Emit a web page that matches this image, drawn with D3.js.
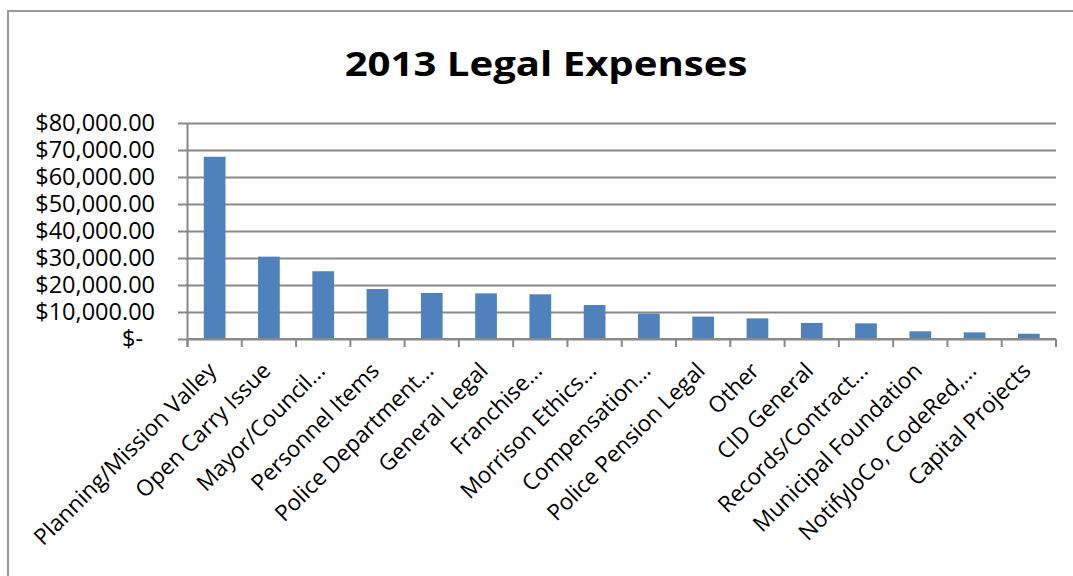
<!DOCTYPE html>
<html>
<head>
<meta charset="utf-8">
<script src="https://cdn.jsdelivr.net/npm/d3@7"></script>
<style>
  body { margin: 0; background: #fff; }
  svg { display: block; font-family: "Open Sans", sans-serif; }
</style>
</head>
<body>
<svg id="chart" width="1073" height="576"></svg>
<script>
// data
const categories = [
  "Planning/Mission Valley", "Open Carry Issue", "Mayor/Council...", "Personnel Items",
  "Police Department...", "General Legal", "Franchise...", "Morrison Ethics...",
  "Compensation...", "Police Pension Legal", "Other", "CID General",
  "Records/Contract...", "Municipal Foundation", "NotifyJoCo, CodeRed,...", "Capital Projects"
];
const values = [67500, 30500, 25100, 18500, 17050, 16900, 16550, 12600,
                9400, 8300, 7650, 5950, 5800, 2850, 2450, 1950];
const yTicks = [0, 10000, 20000, 30000, 40000, 50000, 60000, 70000, 80000];
const title = "2013 Legal Expenses";

const svg = d3.select("#chart");
var plotLeft = 187.5, plotRight = 1056, plotTop = 123, plotBottom = 339;

// chart frame
svg.append("path")
  .attr("d", "M8,580 L8,11 L1080,11")
  .attr("fill", "none")
  .attr("stroke", "#9a9a9a")
  .attr("stroke-width", 2);

svg.append("text")
  .attr("transform", "translate(546,76) scale(1.18,1)")
  .attr("text-anchor", "middle")
  .style("font-size", "34px").style("font-weight", "bold")
  .text(title);

var y = d3.scaleLinear().domain([0, 80000]).range([plotBottom, plotTop]);
var x = d3.scaleBand().domain(categories).range([plotLeft, plotRight]);

var money = d3.format(",.2f");

// gridlines + labels via the left axis, drawn from the right edge
var yAxis = svg.append("g")
  .attr("transform", "translate(" + plotRight + ",0)")
  .call(d3.axisLeft(y).tickValues(yTicks)
    .tickSize(plotRight - 178)
    .tickPadding(23)
    .tickFormat(d => d === 0 ? "$-" : "$" + money(d)));
yAxis.select(".domain").remove();
yAxis.selectAll("line").attr("stroke", "#888").attr("stroke-width", 2);
yAxis.selectAll("text")
  .style("font-size", "23.5px").attr("fill", "#000")
  .attr("font-family", "Open Sans")
  .attr("dx", d => d === 0 ? -12 : 0);

// bars
svg.append("g").selectAll("rect")
  .data(values)
  .enter()
  .append("rect")
  .attr("x", (d, i) => x(categories[i]) + x.bandwidth() * 0.3)
  .attr("width", x.bandwidth() * 0.4)
  .attr("y", d => y(d))
  .attr("height", d => plotBottom - y(d))
  .attr("fill", "#4F81BD");

// y axis line
svg.append("line")
  .attr("x1", plotLeft).attr("x2", plotLeft)
  .attr("y1", plotTop).attr("y2", plotBottom + 8)
  .attr("stroke", "#888").attr("stroke-width", 2);

// x axis line and ticks at band edges
svg.append("line")
  .attr("x1", plotLeft).attr("x2", plotRight)
  .attr("y1", plotBottom).attr("y2", plotBottom)
  .attr("stroke", "#888").attr("stroke-width", 2);
var edges = categories.map(c => x(c)).concat([plotRight]);
svg.append("g").selectAll("line")
  .data(edges)
  .enter()
  .append("line")
  .attr("x1", d => d).attr("x2", d => d)
  .attr("y1", plotBottom).attr("y2", plotBottom + 8)
  .attr("stroke", "#888").attr("stroke-width", 2);

// rotated category labels
svg.append("g").selectAll("text")
  .data(categories)
  .enter()
  .append("text")
  .attr("transform", d => "translate(" + (x(d) + x.bandwidth() / 2 - 8) + "," + (plotBottom + 22) + ") rotate(-45)")
  .attr("text-anchor", "end")
  .attr("dy", "0.7em")
  .style("font-size", "22.5px")
  .text(d => d);
</script>
</body>
</html>
